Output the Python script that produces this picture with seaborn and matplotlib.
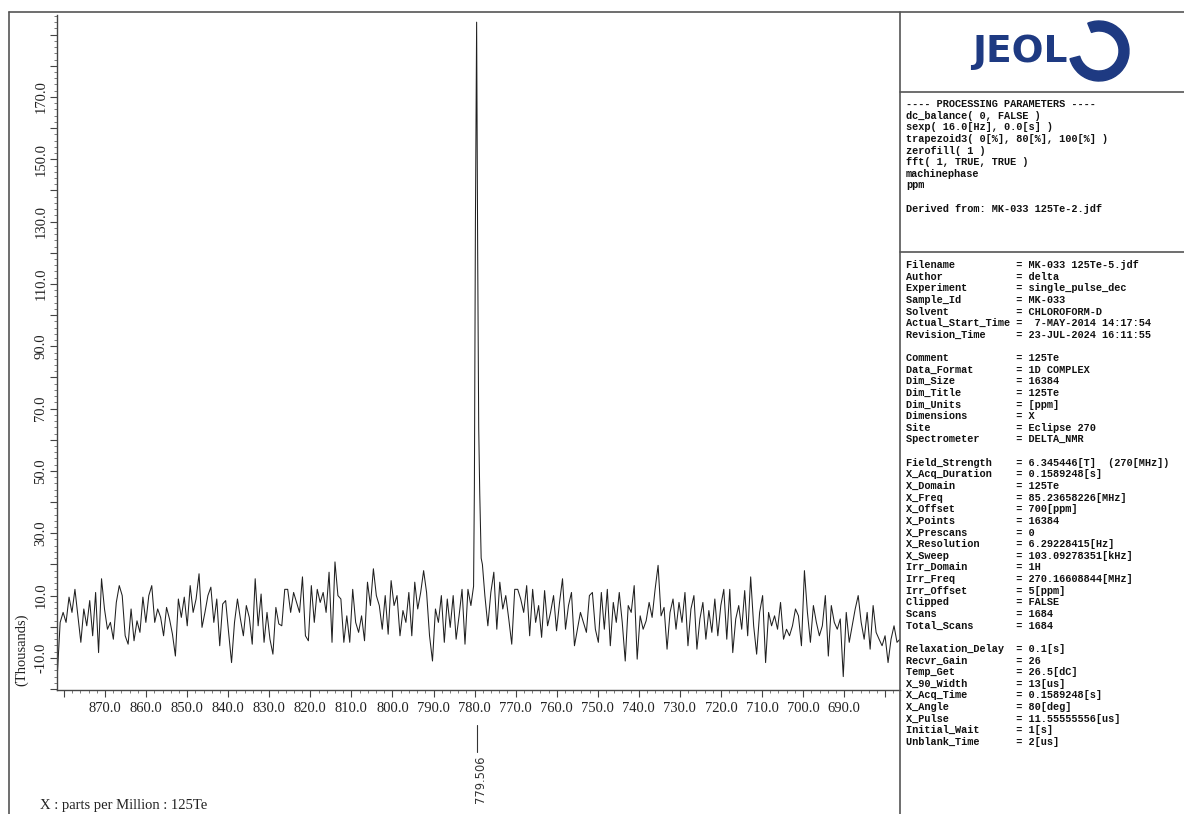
import numpy as np
import pandas as pd
import seaborn as sns
import matplotlib.pyplot as plt
from matplotlib.lines import Line2D
from matplotlib.patches import Wedge
from matplotlib.ticker import MultipleLocator, FuncFormatter

# 125Te spectrum (values in thousands)
left_start, left_stop = 881.65, 780.9
left_vals = [
    -16, 1.4, 4.6, 1.4, 9.5, 4.6, 12, 3.5, -5, 5.7,
    0.3, 8.4, -2.9, 11, -8.3, 15.4, 5.7, -0.8, 1.4, -4,
    7.8, 13.2, 10, -2.9, -5.6, 5.7, -4.5, 1.9, -1.8, 9.5,
    1.4, 10, 13.2, 1.4, 5.7, 3, -2.9, 6.2, 2.5, -2.4,
    -9.4, 8.9, 3, 9.5, 0.3, 13.2, 4.6, 8.9, 17, -0.2,
    4.6, 10, 12.7, 1.4, 8.9, -6.1, 7.3, 8.4, -1.8, -11.5,
    1.4, 8.9, 2.5, -2.9, 6.8, 3, -5.6, 15.4, 0.3, 10.5,
    -5, 4.6, -4, -8.8, 6.2, 0.9, 0.3, 12, 12, 4.6,
    11, 7.8, 4.6, 16, -2.9, -4.5, 13.2, 1.4, 12, 7.8,
    11, 4.6, 17.5, -5, 20.8, 10,
    8.9, -5, 3.5, -5, 12, 1.4, -1.8, 3.5, -4.5, 14.3,
    6.8, 18.6, 10, 6.8, -0.8, 10, -2.4, 14.8, 6.8, 10,
    -2.9, 5.2, 1.4, 11, -2.9, 14.3, 5.7, 11, 18, 11,
    -2.9, -11, 5.7, 1.4, 10, -5, 8.9, -0.2, 10, -4,
    3.5, 12, -5.6, 12, 6.8,
]
peak_ppm = [780.25, 780.05, 779.8, 779.506, 779.25, 779.0, 778.75, 778.4, 778.1]
peak_vals = [13, 45, 130, 194, 120, 64, 43, 22, 20]
right_start, right_stop = 777.5, 676.4
right_vals = [
    10, 0.3, 11, 17.5, -0.8, 14.3, 5.7, 10, 2.5, -5.6,
    12, 12, 8.9, 4.6, 13.2, -2.9, 12, 1.4, 6.8, -3.4,
    11.6, 0.3, 4.6, 10, -1.3, 7.8, 15.4, -0.8, 6.8, 11,
    -6.1, -0.8, 4.6, 1.4, -1.8, 10, 11, -0.8, -5, 11,
    -0.8, 12, -6.1, 7.8, 1.4,
    11, 1.4, -11, 6.8, 4.6, 13.2, -10.4, 3.5, -0.8, 1.9,
    7.8, 3, 12, 19.7, 3.5, 6.2, -7.2, 4.6, 8.9, -0.8,
    7.8, 1.4, 11, -6.1, 5.7, 10, -7.2, 2.5, 7.8, -4,
    5.2, -1.8, 8.9, -2.9, 6.8, 12, -4, 12, -8.3, 2.5,
    6.8, -0.8, 11.6, -2.9, 16, 0.3, -8.8, 4.6, 10, -11.5,
    4.6, 0.3, 3.5, -0.8, 7.8, -4, -0.8, -2.9, 0.3, 5.7,
    3.5, -6.1, 18, 4.6, -5, 6.8, 1.4, -2.9, 0.3, 10,
    -9.4, 6.8, 1.4, -0.8, 2.5, -16, 4.6, -5, 0.3, 5.7,
    10, 1.4, -4, 4.6, -7.2, 6.8, -1.8, -4, -6.1, -2.9,
    -11.5, -4, 0.3, -5, -4,
]
peak_label = '779.506'

processing = [
    '---- PROCESSING PARAMETERS ----',
    'dc_balance( 0, FALSE )',
    'sexp( 16.0[Hz], 0.0[s] )',
    'trapezoid3( 0[%], 80[%], 100[%] )',
    'zerofill( 1 )',
    'fft( 1, TRUE, TRUE )',
    'machinephase',
    'ppm',
    '',
    'Derived from: MK-033 125Te-2.jdf',
]
params = [
    ('Filename', 'MK-033 125Te-5.jdf'),
    ('Author', 'delta'),
    ('Experiment', 'single_pulse_dec'),
    ('Sample_Id', 'MK-033'),
    ('Solvent', 'CHLOROFORM-D'),
    ('Actual_Start_Time', ' 7-MAY-2014 14:17:54'),
    ('Revision_Time', '23-JUL-2024 16:11:55'),
    None,
    ('Comment', '125Te'),
    ('Data_Format', '1D COMPLEX'),
    ('Dim_Size', '16384'),
    ('Dim_Title', '125Te'),
    ('Dim_Units', '[ppm]'),
    ('Dimensions', 'X'),
    ('Site', 'Eclipse 270'),
    ('Spectrometer', 'DELTA_NMR'),
    None,
    ('Field_Strength', '6.345446[T]  (270[MHz])'),
    ('X_Acq_Duration', '0.1589248[s]'),
    ('X_Domain', '125Te'),
    ('X_Freq', '85.23658226[MHz]'),
    ('X_Offset', '700[ppm]'),
    ('X_Points', '16384'),
    ('X_Prescans', '0'),
    ('X_Resolution', '6.29228415[Hz]'),
    ('X_Sweep', '103.09278351[kHz]'),
    ('Irr_Domain', '1H'),
    ('Irr_Freq', '270.16608844[MHz]'),
    ('Irr_Offset', '5[ppm]'),
    ('Clipped', 'FALSE'),
    ('Scans', '1684'),
    ('Total_Scans', '1684'),
    None,
    ('Relaxation_Delay', '0.1[s]'),
    ('Recvr_Gain', '26'),
    ('Temp_Get', '26.5[dC]'),
    ('X_90_Width', '13[us]'),
    ('X_Acq_Time', '0.1589248[s]'),
    ('X_Angle', '80[deg]'),
    ('X_Pulse', '11.55555556[us]'),
    ('Initial_Wait', '1[s]'),
    ('Unblank_Time', '2[us]'),
]

ppm = np.concatenate([np.linspace(left_start, left_stop, len(left_vals)),
                      peak_ppm,
                      np.linspace(right_start, right_stop, len(right_vals))])
df = pd.DataFrame({'ppm': ppm, 'intensity': left_vals + peak_vals + right_vals})

sns.set_style('ticks')
plt.rcParams['font.family'] = ['Liberation Serif', 'DejaVu Serif']

W, H = 1184, 814
fig = plt.figure(figsize=(W / 100, H / 100), dpi=100)
ax = fig.add_axes([57 / W, 1 - 690 / H, 843 / W, 675 / H])

sns.lineplot(data=df, x='ppm', y='intensity', ax=ax, color='#202020',
             lw=0.75, estimator=None, sort=False)

ax.set_xlim(881.7, 676.4)
ax.set_ylim(-20.3, 196.3)
ax.set_xlabel('')
ax.set_ylabel('')
for s in ['top', 'right']:
    ax.spines[s].set_visible(False)
for s in ['left', 'bottom']:
    ax.spines[s].set_color('#444444')
    ax.spines[s].set_linewidth(1.0)

ax.xaxis.set_major_locator(MultipleLocator(10))
ax.xaxis.set_minor_locator(MultipleLocator(2))
ax.xaxis.set_major_formatter(FuncFormatter(
    lambda v, p: f'{v:.1f}' if 690 <= v <= 870 else ''))
ax.yaxis.set_major_locator(MultipleLocator(10))
ax.yaxis.set_minor_locator(MultipleLocator(2))
ax.yaxis.set_major_formatter(FuncFormatter(
    lambda v, p: f'{v:.1f}' if round(v) % 20 == 10 and v <= 170 else ''))
ax.tick_params(which='major', length=5, width=0.8, color='#444444',
               labelsize=10.5, labelcolor='#222222')
ax.tick_params(which='minor', length=2.5, width=0.6, color='#666666')
ax.tick_params(axis='y', labelrotation=90, pad=2)
for lbl in ax.get_yticklabels():
    lbl.set_va('center')

ax.plot([peak_ppm[3], peak_ppm[3]], [-0.052, -0.092], color='#333333', lw=0.8,
        transform=ax.get_xaxis_transform(), clip_on=False)
ax.annotate(peak_label, xy=(peak_ppm[3], -0.095),
            xycoords=('data', 'axes fraction'), xytext=(3, -1),
            textcoords='offset points', rotation=90, ha='center', va='top',
            fontsize=8.3, color='#333333', family=['DejaVu Sans'])

fig.text(22 / W, 1 - 650 / H, '(Thousands)', rotation=90, ha='center',
         va='center', fontsize=10.5, color='#222222')
fig.text(40 / W, 1 - 805 / H, 'X : parts per Million : 125Te', ha='left',
         va='center', fontsize=10.5, color='#222222')

# frame lines
lc = '#555555'
fig.add_artist(Line2D([9 / W, 1], [1 - 12 / H] * 2, color=lc, lw=1.2))
fig.add_artist(Line2D([9 / W] * 2, [0, 1 - 12 / H], color=lc, lw=1.2))
fig.add_artist(Line2D([900 / W] * 2, [0, 1 - 12 / H], color=lc, lw=1.2))
fig.add_artist(Line2D([900 / W, 1], [1 - 92 / H] * 2, color=lc, lw=1.2))
fig.add_artist(Line2D([900 / W, 1], [1 - 252 / H] * 2, color=lc, lw=1.2))

# logo
lax = fig.add_axes([900 / W, 1 - 92 / H, 284 / W, 80 / H])
lax.set_xlim(900, 1184)
lax.set_ylim(H - 92, H - 12)
lax.axis('off')
blue = '#1e3a82'
lax.text(1020, H - 52, 'JEOL', ha='center', va='center', fontsize=27,
         fontweight='heavy', color=blue, family=['DejaVu Sans'])
lax.add_patch(Wedge((1099, H - 51), 30, -165, 112, width=10, color=blue))

mono = ['Liberation Mono', 'DejaVu Sans Mono']
step = 11.63
for i, line in enumerate(processing):
    fig.text(906 / W, 1 - (104 + i * step) / H, line, family=mono,
             fontweight='bold', fontsize=7.4, va='center', color='#111111')
for i, item in enumerate(params):
    if item is None:
        continue
    key, val = item
    fig.text(906 / W, 1 - (265 + i * step) / H, f'{key:<18}= {val}',
             family=mono, fontweight='bold', fontsize=7.4, va='center',
             color='#111111')

fig.savefig('out.png', dpi=100)
